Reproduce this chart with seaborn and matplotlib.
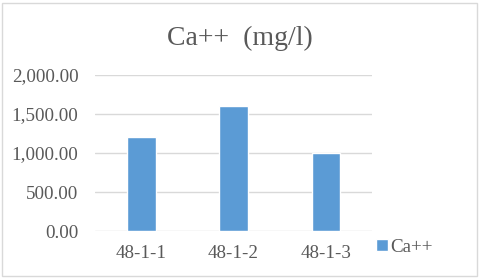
import matplotlib
matplotlib.use("Agg")
import matplotlib.pyplot as plt
from matplotlib.patches import Rectangle
import seaborn as sns
import pandas as pd

# data
samples = ["48-1-1", "48-1-2", "48-1-3"]
ca_values = [1200, 1600, 1000]
yticks = [0, 500, 1000, 1500, 2000]

df = pd.DataFrame({"sample": samples, "Ca++": ca_values})

sns.set_style("white")
plt.rcParams['font.family'] = ['Liberation Serif', 'DejaVu Serif']

fig = plt.figure(figsize=(4.8, 2.78), dpi=100)
ax = fig.add_axes([0.198, 0.169, 0.577, 0.561])

sns.barplot(data=df, x="sample", y="Ca++", color="#5B9BD5", width=0.31,
            saturation=1, ax=ax, label="Ca++")

ax.set_ylim(0, 2000)
ax.set_yticks(yticks)
ax.set_yticklabels([f"{v:,.2f}" for v in yticks])
ax.yaxis.grid(True, color="#D9D9D9", linewidth=1)
ax.set_axisbelow(True)
for s in ax.spines.values():
    s.set_visible(False)
ax.tick_params(axis="both", length=0, labelsize=13.7, colors="#595959")
ax.tick_params(axis="y", pad=12)
ax.tick_params(axis="x", pad=10)
ax.set_xlabel("")
ax.set_ylabel("")

fig.text(0.5, 0.862, "Ca++  (mg/l)", ha="center", va="center",
         fontsize=20, color="#595959")

ax.legend(loc="center left", bbox_to_anchor=(0.953, -0.105), frameon=False,
          fontsize=13.7, handlelength=0.6, handleheight=0.6, handletextpad=0.15,
          labelcolor="#595959")

# outer chart border
fig.patches.append(Rectangle((0.004, 0.006), 0.99, 0.985, transform=fig.transFigure,
                             fill=False, edgecolor="#D9D9D9", linewidth=1))

fig.savefig("out.png", dpi=100)
